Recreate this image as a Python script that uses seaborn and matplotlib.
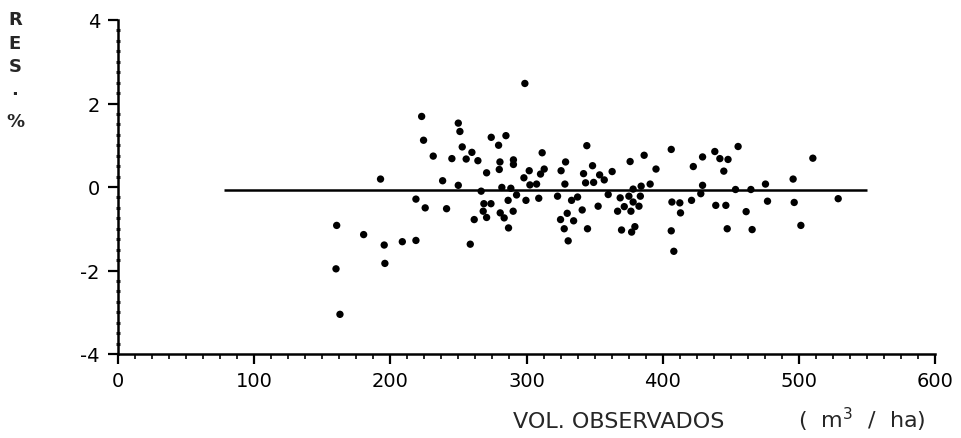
import matplotlib
matplotlib.use("Agg")
import matplotlib.pyplot as plt
from matplotlib.ticker import MultipleLocator
import numpy as np
import pandas as pd
import seaborn as sns

vol = [160.6, 160.1, 163.0, 180.4, 192.8, 195.5, 196.0, 208.8, 218.8, 218.8,
       223.0, 224.4, 225.6, 231.5, 238.4, 241.3, 245.2, 249.9, 251.1, 249.9,
       252.8, 255.7, 258.7, 259.9, 261.6, 264.3, 266.7, 268.2, 268.7, 270.7,
       270.7, 273.9, 274.1, 279.5, 280.5, 280.0, 280.7, 281.9, 283.6, 284.9,
       286.5, 286.8, 288.5, 290.2, 290.4, 290.4, 292.7, 298.1, 298.8, 299.6,
       302.0, 302.5, 307.4, 309.0, 310.3, 311.5, 313.0, 322.8, 325.0, 325.4,
       327.7, 328.2, 328.7, 329.9, 330.6, 333.1, 334.6, 337.5, 340.9, 341.9,
       343.4, 344.3, 344.8, 348.5, 349.3, 352.6, 353.7, 357.1, 360.0, 362.9,
       366.9, 368.8, 369.8, 371.8, 375.2, 376.1, 376.7, 377.2, 378.3, 378.3,
       379.6, 382.6, 383.6, 384.2, 386.4, 390.8, 395.1, 406.3, 406.8, 406.3,
       408.2, 412.6, 413.1, 421.2, 422.5, 428.0, 429.3, 429.3, 438.3, 439.0,
       442.0, 444.9, 446.4, 447.4, 448.0, 453.5, 455.4, 461.3, 464.8, 465.7,
       475.5, 477.0, 495.8, 496.6, 501.5, 510.3, 528.9]
res = [-0.92, -1.96, -3.05, -1.14, 0.19, -1.39, -1.83, -1.31, -1.28, -0.29,
       1.69, 1.12, -0.50, 0.74, 0.15, -0.52, 0.68, 1.53, 1.33, 0.04,
       0.96, 0.67, -1.37, 0.83, -0.78, 0.63, -0.10, -0.58, -0.40, 0.34,
       -0.73, -0.40, 1.19, 1.00, 0.60, 0.42, -0.62, -0.01, -0.74, 1.23,
       -0.32, -0.98, -0.03, -0.58, 0.65, 0.54, -0.19, 0.22, 2.48, -0.32,
       0.39, 0.05, 0.07, -0.27, 0.31, 0.82, 0.43, -0.22, -0.78, 0.39,
       -1.00, 0.07, 0.60, -0.63, -1.29, -0.32, -0.81, -0.24, -0.55, 0.32,
       0.10, 0.99, -1.00, 0.51, 0.11, -0.46, 0.29, 0.17, -0.18, 0.37,
       -0.58, -0.26, -1.03, -0.47, -0.22, 0.61, -0.58, -1.08, -0.05, -0.36,
       -0.95, -0.46, -0.22, 0.02, 0.76, 0.07, 0.43, 0.90, -0.36, -1.05,
       -1.54, -0.38, -0.62, -0.32, 0.49, -0.16, 0.72, 0.04, 0.85, -0.44,
       0.68, 0.38, -0.44, -1.00, 0.66, -0.06, 0.97, -0.59, -0.06, -1.02,
       0.07, -0.34, 0.19, -0.37, -0.92, 0.69, -0.28]

# linea de residuo medio
linea_nivel = -0.06
linea_desde = 78
linea_hasta = 550

x_ticks = [0, 100, 200, 300, 400, 500, 600]
y_ticks = [-4, -2, 0, 2, 4]

sns.set_style("ticks")
plt.rcParams["font.family"] = ["DejaVu Sans"]
plt.rcParams["axes.unicode_minus"] = False

df = pd.DataFrame({"vol": vol, "res": res})

fig = plt.figure(figsize=(9.61, 4.39), dpi=100)
ax = fig.add_axes([118 / 961, 1 - 355 / 439, (935 - 118) / 961, (355 - 21) / 439])

sns.scatterplot(data=df, x="vol", y="res", ax=ax, color="black", s=28,
                edgecolor="none", linewidth=0, zorder=3)
ax.hlines(linea_nivel, linea_desde, linea_hasta, color="black", linewidth=1.8)

ax.set_xlim(0, 600)
ax.set_ylim(-4, 4)
ax.set_xticks(x_ticks)
ax.set_yticks(y_ticks)
ax.xaxis.set_minor_locator(MultipleLocator(12.5))
ax.yaxis.set_minor_locator(MultipleLocator(0.25))

for s in ["top", "right"]:
    ax.spines[s].set_visible(False)
for s in ["left", "bottom"]:
    ax.spines[s].set_linewidth(1.8)
    ax.spines[s].set_color("black")

ax.tick_params(axis="both", which="major", direction="out", length=7, width=1.6,
               labelsize=14, color="black", labelcolor="black")
ax.tick_params(axis="x", which="major", pad=5)
ax.tick_params(axis="y", which="major", pad=6)
ax.tick_params(axis="x", which="minor", direction="out", length=3.5, width=1.4)
ax.tick_params(axis="y", which="minor", direction="inout", length=3, width=2.2)

ax.set_xlabel("")
ax.set_ylabel("")

# etiqueta del eje y escrita en vertical
for letra, yy in zip(["R", "E", "S", ".", "%"], [20, 44, 67, 90, 122]):
    fig.text(15 / 961, 1 - yy / 439, letra, ha="center", va="center",
             fontsize=13, fontweight="bold")

fig.text(513 / 961, 1 - 422 / 439, "VOL. OBSERVADOS", ha="left", va="center",
         fontsize=16)
fig.text(925 / 961, 1 - 420 / 439, r"(  m$^3$  /  ha)", ha="right", va="center",
         fontsize=16)

fig.savefig("out.png", dpi=100)
